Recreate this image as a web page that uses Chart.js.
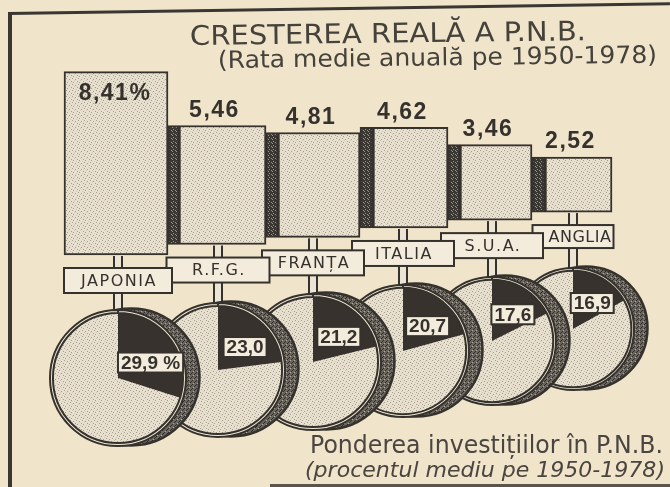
<!DOCTYPE html>
<html><head><meta charset="utf-8">
<script src="https://cdn.jsdelivr.net/npm/chart.js@4.4.1/dist/chart.umd.min.js"></script>
<style>
html,body{margin:0;padding:0;}
body{width:670px;height:487px;overflow:hidden;position:relative;background:#f0e4ca;}
canvas{position:absolute;}
.txt{position:absolute;white-space:nowrap;line-height:1;transform-origin:0 50%;color:#3e3a35;font-family:"DejaVu Sans",sans-serif;z-index:40;}
.line{position:absolute;background:#3a3631;z-index:50;}
</style></head><body>
<div class="line" style="left:8px;top:13px;width:4px;height:474px;"></div>
<div class="line" style="left:8px;top:12px;width:662px;height:3px;transform-origin:0 0;transform:rotate(-0.85deg);"></div>
<div class="line" style="left:270px;top:484px;width:400px;height:3px;background:#5a544d;"></div>
<canvas id="bars" width="670" height="487" style="left:0;top:0;z-index:1"></canvas>
<div class="txt" id="title" style="left:190px;top:22px;font-size:27px;color:#45413b;" data-w="396" data-r="-0.7">CRESTEREA REALĂ A P.N.B.</div>
<div class="txt" id="sub" style="left:218px;top:48px;font-size:24px;color:#45413b;" data-w="439" data-r="-0.7">(Rata medie anuală pe 1950-1978)</div>
<div class="txt" id="foot1" style="left:310px;top:432px;font-size:25px;color:#4a4540;" data-w="353" data-r="0">Ponderea investițiilor în P.N.B.</div>
<div class="txt" id="foot2" style="left:305px;top:459px;font-size:22px;font-style:italic;color:#4a4540;" data-w="360" data-r="0">(procentul mediu pe 1950-1978)</div>
<script>
// ---- data ----
const countries = ['JAPONIA', 'R.F.G.', 'FRANȚA', 'ITALIA', 'S.U.A.', 'ANGLIA'];
const gnpGrowth = [8.41, 5.46, 4.81, 4.62, 3.46, 2.52];
const gnpLabels = ['8,41%', '5,46', '4,81', '4,62', '3,46', '2,52'];
const investShare = [29.9, 23.0, 21.2, 20.7, 17.6, 16.9];
const investLabels = ['29,9 %', '23,0', '21,2', '20,7', '17,6', '16,9'];

// ---- layout (positions / sizes only) ----
const LAYOUT = {
  boxLeft:  [64, 179, 278, 373, 460, 545],
  boxRight: [168, 266, 360, 448, 532, 612],
  lift:     [0, 0.48, 0.81, 1.24, 1.60, 1.97],   // perspective lift of each box (value units)
  pieCX:    [118, 218, 313, 403, 492, 573],
  pieCY:    [378, 370, 362, 351, 341, 329],
  pieR:     [68, 67, 68, 66, 64, 61],
  labelW:   [108, 103, 102, 102, 102, 81],
  labelH:   [25, 25, 25, 25, 25, 23],
  labelDX:  [0, 0, 0, 0, 0, 6]
};
const PX_PER_UNIT = 21.8, BASE_PX = 255, H = 487;
const Y_MAX = BASE_PX / PX_PER_UNIT, Y_MIN = Y_MAX - H / PX_PER_UNIT;

const INK = '#35312d', SLICE = '#37322e', LABEL_FILL = '#f3ebdb', STEM_FILL = '#ece4d4', RING_FILL = '#efe6d3';

function tile(size, base, dots) {
  const c = document.createElement('canvas'); c.width = c.height = size;
  const g = c.getContext('2d'); g.fillStyle = base; g.fillRect(0, 0, size, size);
  dots.forEach(([col, pts]) => { g.fillStyle = col; pts.forEach(([x, y]) => g.fillRect(x, y, 1, 1)); });
  return c;
}
const lightTile = tile(6, '#e8e0cf', [['#a59c8e', [[0,0],[3,1],[5,3],[1,4]]], ['#cfc6b6', [[2,2],[4,5]]]]);
const darkTile  = tile(4, '#3a3632', [['#99938a', [[1,1],[3,2],[0,3]]]]);
const rimTile   = tile(4, '#6b665e', [['#2f2b28', [[0,0],[2,2],[1,3]]], ['#b0a99e', [[3,1]]]]);
const pat = (ctx, t) => ctx.createPattern(t, 'repeat');

// ---- bar chart (boxes + their shaded side faces) ----
const barCanvas = document.getElementById('bars');
const bctx = barCanvas.getContext('2d');
const datasets = [];
const boxIdx = [];
countries.forEach((name, i) => {
  const L = LAYOUT.boxLeft[i], R = LAYOUT.boxRight[i], s = LAYOUT.lift[i];
  const span = [s, s + gnpGrowth[i]];
  boxIdx.push(datasets.length);
  datasets.push({ label: name, data: [{ x: (L + R) / 2, y: span }], barThickness: R - L,
    backgroundColor: pat(bctx, lightTile), borderColor: INK, borderWidth: 2, borderSkipped: false, stack: 'all' });
  if (i > 0) {
    const pl = LAYOUT.boxRight[i - 1];
    datasets.push({ label: name + ' (latură)', data: [{ x: (pl + L) / 2, y: span }], barThickness: L - pl,
      backgroundColor: pat(bctx, darkTile), borderColor: INK, borderWidth: 2, borderSkipped: false, stack: 'all' });
  }
});

function stem(ctx, x, y0, y1) {
  if (y1 <= y0) return;
  ctx.fillStyle = STEM_FILL; ctx.fillRect(x - 4, y0, 8, y1 - y0);
  ctx.fillStyle = INK; ctx.fillRect(x - 5, y0, 2, y1 - y0); ctx.fillRect(x + 3, y0, 2, y1 - y0);
}

const barDecor = {
  id: 'barDecor',
  afterDatasetsDraw(chart) {
    const ctx = chart.ctx;
    ctx.save();
    const boxes = boxIdx.map(k => chart.getDatasetMeta(k).data[0]);
    for (let i = countries.length - 1; i >= 0; i--) {
      const b = boxes[i];
      const bottom = Math.max(b.y, b.base);
      const cx = LAYOUT.pieCX[i], lw = LAYOUT.labelW[i], lh = LAYOUT.labelH[i];
      const lt = bottom + 13;
      stem(ctx, cx, bottom + 1, lt);
      stem(ctx, cx, lt + lh, LAYOUT.pieCY[i] - LAYOUT.pieR[i] + 4);
      ctx.fillStyle = LABEL_FILL; ctx.fillRect(cx - lw / 2, lt, lw, lh);
      ctx.strokeStyle = INK; ctx.lineWidth = 2; ctx.strokeRect(cx - lw / 2, lt, lw, lh);
      ctx.fillStyle = INK; ctx.font = '16px "DejaVu Sans"'; ctx.letterSpacing = i === 5 ? '0.5px' : '1.5px';
      ctx.textAlign = 'center'; ctx.textBaseline = 'middle';
      ctx.fillText(countries[i], cx + 1 + LAYOUT.labelDX[i], lt + lh / 2 + 1);
    }
    ctx.letterSpacing = '1.5px';
    ctx.font = 'bold 23px "Liberation Sans", Arial';
    ctx.fillStyle = INK; ctx.textAlign = 'center'; ctx.textBaseline = 'middle';
    boxes.forEach((b, i) => {
      const top = Math.min(b.y, b.base);
      if (i === 0) ctx.fillText(gnpLabels[i], b.x - 1, top + 22);
      else ctx.fillText(gnpLabels[i], b.x - 8, top - 15);
    });
    ctx.restore();
  }
};

new Chart(barCanvas, {
  type: 'bar',
  data: { datasets },
  options: {
    responsive: false, animation: false, devicePixelRatio: 1, events: [],
    layout: { padding: 0 },
    scales: {
      x: { type: 'linear', min: 0, max: 670, display: false, offset: false },
      y: { type: 'linear', min: Y_MIN, max: Y_MAX, display: false, stacked: false }
    },
    plugins: { legend: { display: false }, tooltip: { enabled: false } }
  },
  plugins: [barDecor]
});

// ---- pie charts (investment share) ----
const RIM_DX = 13, RIM_DY = -1, PAD = 4;
const rimPlugin = {
  id: 'rim',
  beforeDatasetsDraw(chart) {
    const a = chart.getDatasetMeta(0).data[0];
    const ctx = chart.ctx; ctx.save();
    ctx.beginPath(); ctx.arc(a.x + RIM_DX, a.y + RIM_DY, a.outerRadius + 0.5, 0, Math.PI * 2);
    ctx.fillStyle = pat(ctx, rimTile); ctx.fill();
    ctx.lineWidth = 2.5; ctx.strokeStyle = INK; ctx.stroke();
    ctx.restore();
  }
};
const pieLabel = {
  id: 'pieLabel',
  afterDatasetsDraw(chart) {
    const i = chart.options.plugins.pieLabel.idx;
    const outer = chart.getDatasetMeta(0).data[0];
    const arc = chart.getDatasetMeta(1).data[0];
    const ang = arc.startAngle + 0.6 * (arc.endAngle - arc.startAngle);
    const rr = 0.53 * outer.outerRadius;
    const x = arc.x + rr * Math.cos(ang), y = arc.y + rr * Math.sin(ang);
    const ctx = chart.ctx; ctx.save();
    ctx.font = 'bold 19px "Liberation Sans", Arial';
    ctx.textAlign = 'center'; ctx.textBaseline = 'middle';
    const w = ctx.measureText(investLabels[i]).width + 6, h = 20;
    ctx.fillStyle = LABEL_FILL; ctx.fillRect(x - w / 2, y - h / 2, w, h);
    ctx.strokeStyle = INK; ctx.lineWidth = 2; ctx.strokeRect(x - w / 2, y - h / 2, w, h);
    ctx.fillStyle = INK; ctx.fillText(investLabels[i], x, y + 1);
    ctx.restore();
  }
};

countries.forEach((name, i) => {
  const r = LAYOUT.pieR[i], cx = LAYOUT.pieCX[i], cy = LAYOUT.pieCY[i];
  const c = document.createElement('canvas');
  c.width = 2 * r + 2 * PAD + RIM_DX + 4; c.height = 2 * r + 2 * PAD;
  c.style.left = (cx - r - PAD) + 'px'; c.style.top = (cy - r - PAD) + 'px';
  c.style.zIndex = 20 - i;
  document.body.appendChild(c);
  const ctx = c.getContext('2d');
  new Chart(c, {
    type: 'doughnut',
    data: {
      labels: ['Investiții', 'Rest'],
      datasets: [
        { data: [100], backgroundColor: RING_FILL, borderColor: INK, borderWidth: 2, weight: 1 },
        { data: [investShare[i], 100 - investShare[i]], backgroundColor: [SLICE, pat(ctx, lightTile)], borderWidth: 0, weight: 22 }
      ]
    },
    options: {
      responsive: false, animation: false, devicePixelRatio: 1, events: [],
      cutout: 0, radius: r,
      layout: { padding: { left: PAD, right: PAD + RIM_DX + 4, top: PAD, bottom: PAD } },
      plugins: { legend: { display: false }, tooltip: { enabled: false }, pieLabel: { idx: i } }
    },
    plugins: [rimPlugin, pieLabel]
  });
});

// ---- fit text widths ----
document.querySelectorAll('.txt').forEach(el => {
  const w = el.getBoundingClientRect().width;
  const target = +el.dataset.w, rot = +el.dataset.r;
  el.style.transform = `rotate(${rot}deg) scaleX(${target / w})`;
});
</script>
</body></html>
